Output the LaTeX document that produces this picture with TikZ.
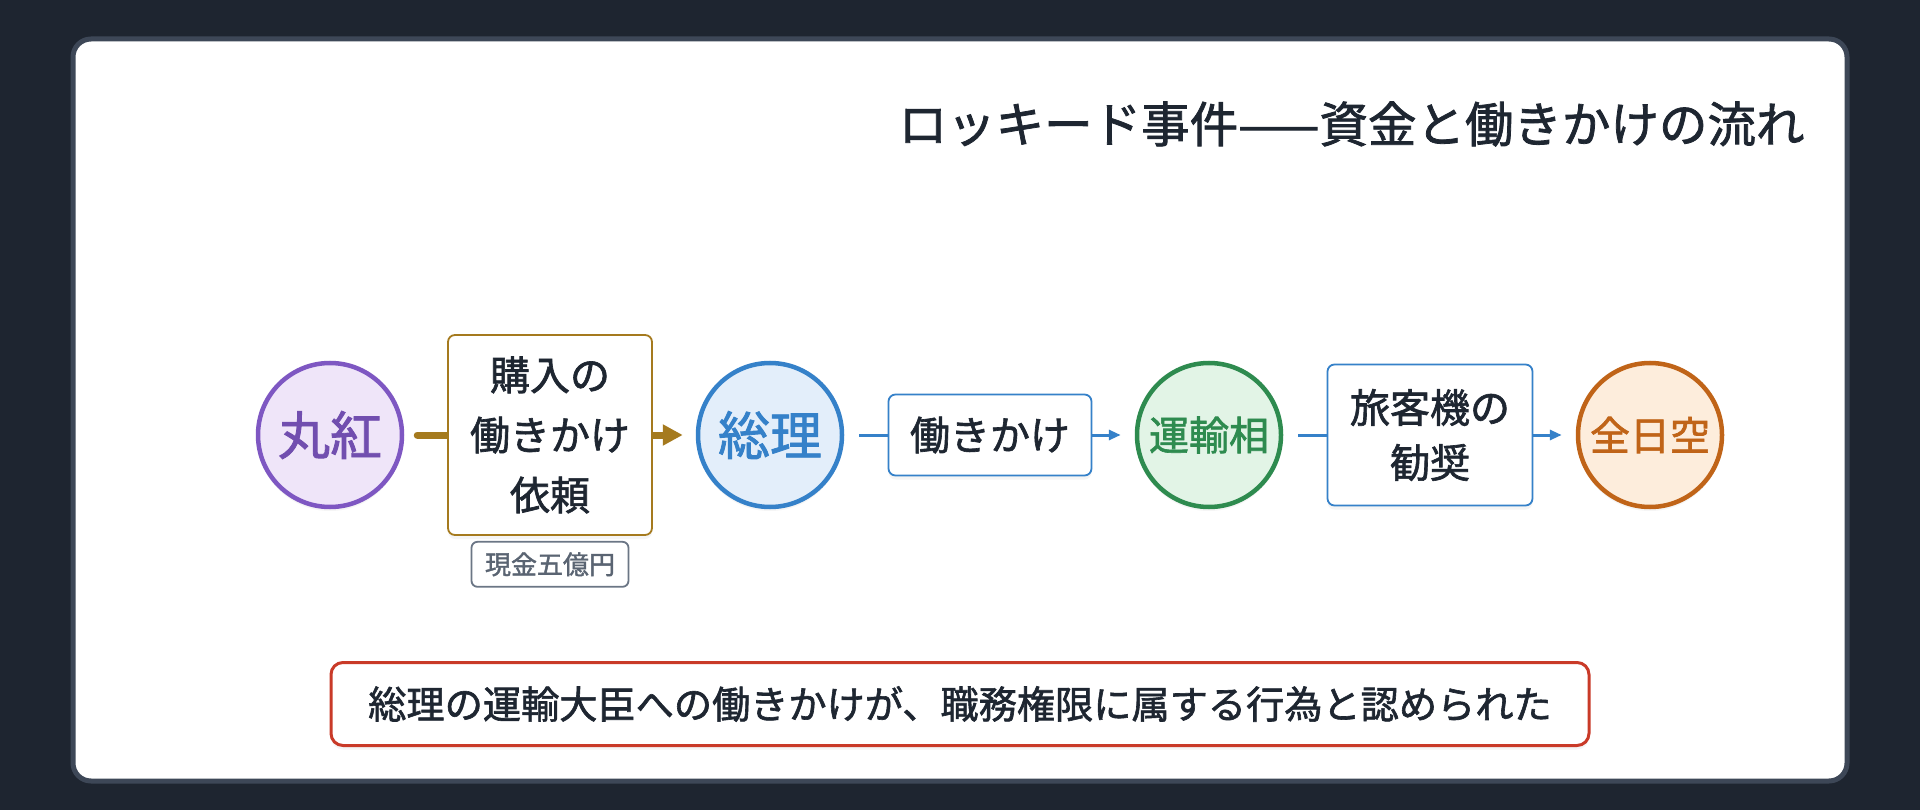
\documentclass[tikz,border=0pt]{standalone}
\usepackage{fontspec}
\setmainfont{Noto Sans CJK JP}[FakeBold=1.6]
\usepackage{tikz}
\usetikzlibrary{arrows.meta}
\usetikzlibrary{positioning,shadows}
\definecolor{pagebg}{HTML}{1E2530}
\definecolor{cardline}{HTML}{3D4757}
\definecolor{ink}{HTML}{1E2631}
\definecolor{purpline}{HTML}{7E57C2}
\definecolor{purpfill}{HTML}{EFE5F9}
\definecolor{blueline}{HTML}{3581C9}
\definecolor{bluefill}{HTML}{E3EEFA}
\definecolor{greenline}{HTML}{2E8B4F}
\definecolor{greenfill}{HTML}{E2F4E6}
\definecolor{orangeline}{HTML}{C06418}
\definecolor{orangefill}{HTML}{FDEDDC}
\definecolor{goldline}{HTML}{A57A1E}
\definecolor{tagline}{HTML}{6B7685}
\definecolor{tagtext}{HTML}{5A6472}
\definecolor{redline}{HTML}{C93A28}

\begin{document}
\begin{tikzpicture}[
x=1pt,y=-1pt,
Party/.style={circle,minimum size=144pt,inner sep=0pt,line width=4.5pt,
  drop shadow={opacity=0.08,shadow xshift=0pt,shadow yshift=-4pt}},
ActBox/.style={draw,fill=white,rounded corners=7pt,line width=1.8pt,align=center,
  text=ink,font=\fontsize{40}{60}\selectfont,
  drop shadow={opacity=0.08,shadow xshift=0pt,shadow yshift=-4pt}},
MoneyFlow/.style={goldline,line width=7pt,line cap=round,shorten <=13pt,shorten >=13pt,
  -{Triangle[length=20pt,width=20pt]}},
PushFlow/.style={blueline,line width=3pt,shorten <=15pt,shorten >=14pt,
  -{Triangle[length=12pt,width=10pt]}}
]
\useasboundingbox (0,0) rectangle (1920,810);
\fill[pagebg] (0,0) rectangle (1920,810);
\draw[cardline,fill=white,line width=5pt,rounded corners=18pt] (73,39) rectangle (1847,781);

% title
\node[anchor=east,text=ink,font=\fontsize{48.5}{56}\selectfont] (title) at (1808,124)
  {ロッキード事件——資金と働きかけの流れ};

% parties
\node[Party,draw=purpline,fill=purpfill,text=purpline!90!black,font=\fontsize{52}{60}\selectfont]
  (marubeni) at (330,435) {丸紅};
\node[Party,draw=blueline,fill=bluefill,text=blueline,font=\fontsize{52}{60}\selectfont]
  (souri) at (770,435) {総理};
\node[Party,draw=greenline,fill=greenfill,text=greenline,font=\fontsize{40}{48}\selectfont]
  (unyu) at (1209,435) {運輸相};
\node[Party,draw=orangeline,fill=orangefill,text=orangeline,font=\fontsize{40}{48}\selectfont]
  (ana) at (1650,435) {全日空};

% flows
\draw[MoneyFlow] (marubeni) -- (souri);
\draw[PushFlow] (souri) -- (unyu);
\draw[PushFlow] (unyu) -- (ana);

% actions
\node[ActBox,draw=goldline,minimum width=204pt,minimum height=200pt] (request) at (550,435)
  {購入の\\働きかけ\\依頼};
\node[ActBox,draw=blueline,minimum width=203pt,minimum height=81pt] (push) at (990,435)
  {働きかけ};
\node[ActBox,draw=blueline,minimum width=205pt,minimum height=141pt,
  font=\fontsize{40}{55}\selectfont] (advise) at (1430,435) {旅客機の\\勧奨};

\node[draw=tagline,fill=white,text=tagtext,rounded corners=6pt,line width=1.8pt,
  minimum width=157pt,minimum height=45pt,font=\fontsize{26}{30}\selectfont,
  below=5pt of request] (cash) {現金五億円};

% verdict
\node[draw=redline,fill=white,text=ink,rounded corners=12pt,line width=3pt,
  minimum width=1258pt,minimum height=83pt,font=\fontsize{38.2}{46}\selectfont,
  drop shadow={opacity=0.08,shadow xshift=0pt,shadow yshift=-4pt}]
  (verdict) at (960,704) {総理の運輸大臣への働きかけが、職務権限に属する行為と認められた};

\end{tikzpicture}
\end{document}
